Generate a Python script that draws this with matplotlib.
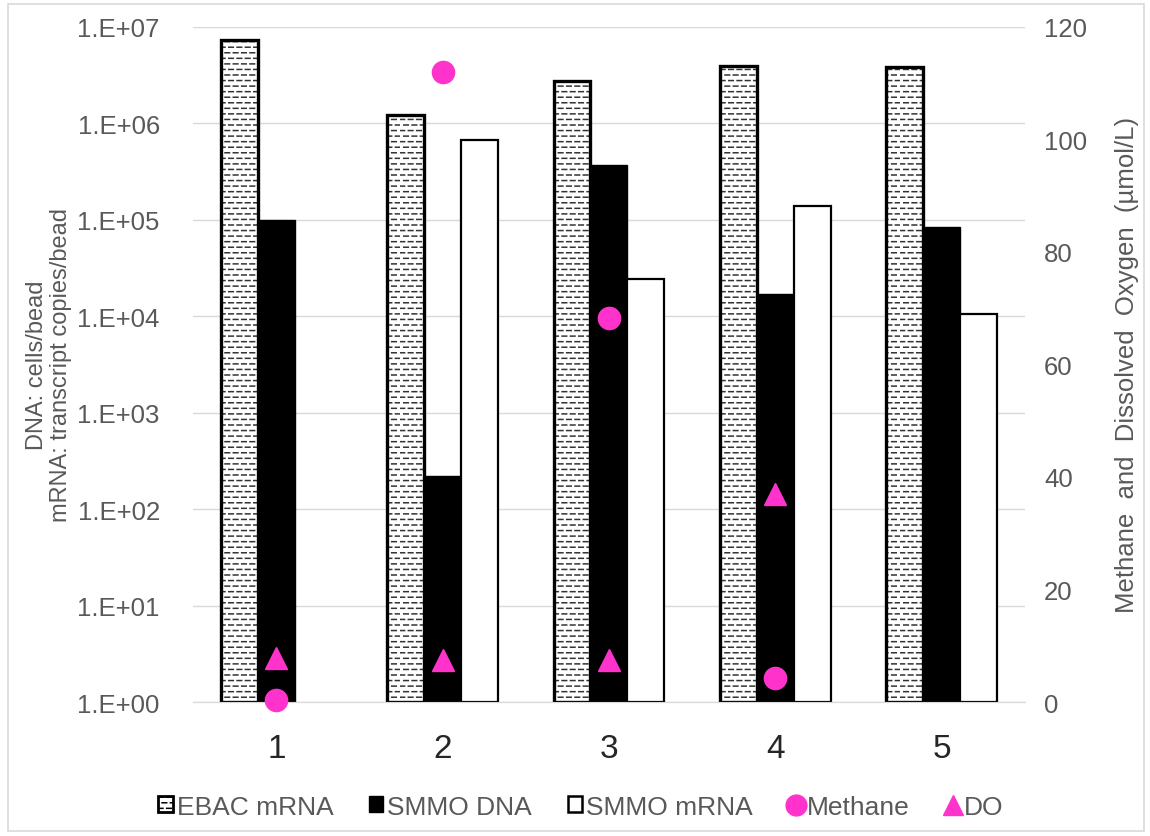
import matplotlib
matplotlib.use("Agg")
import matplotlib.pyplot as plt
import matplotlib.hatch as mhatch
from matplotlib.path import Path
import numpy as np
from matplotlib.patches import Patch, Rectangle
from matplotlib.lines import Line2D

plt.rcParams['font.family'] = ['Liberation Sans', 'DejaVu Sans']
plt.rcParams['hatch.linewidth'] = 1.1

# ---- data ----
samples = ["1", "2", "3", "4", "5"]
ebac_mrna = [7.3e6, 1.2e6, 2.7e6, 3.9e6, 3.8e6]
smmo_dna = [9.8e4, 2.2e2, 3.7e5, 1.7e4, 8.3e4]
smmo_mrna = [np.nan, 6.7e5, 2.4e4, 1.38e5, 1.05e4]
methane = [0.3, 112.0, 68.3, 4.3, np.nan]
dissolved_o2 = [7.8, 7.5, 7.5, 36.9, np.nan]

PINK = "#FF33CC"
GREY = "#595959"
GRID = "#D9D9D9"


class DashedHorizontal(mhatch.HatchPatternBase):
    """Excel-like 'dashed horizontal' fill, used with the '=' hatch char."""
    def __init__(self, hatch, density):
        self.rows = hatch.count('=') * density * 3
        self.per_row = 12
        self.num_vertices = self.rows * self.per_row * 2

    def set_vertices_and_codes(self, vertices, codes):
        p = 1.0 / self.per_row
        k = 0
        for r in range(self.rows):
            y = (r + 0.5) / self.rows
            shift = 0.0 if r % 2 == 0 else 0.45 * p
            for j in range(self.per_row):
                x0 = j * p + shift
                vertices[k] = (x0, y)
                vertices[k + 1] = (x0 + 0.55 * p, y)
                codes[k] = Path.MOVETO
                codes[k + 1] = Path.LINETO
                k += 2


mhatch._hatch_types.append(DashedHorizontal)

fig = plt.figure(figsize=(11.5, 8.37), dpi=100, facecolor="white")
ax = fig.add_axes([0.168, 0.160, 0.723, 0.807])
ax2 = ax.twinx()

x = np.arange(len(samples))
w = 0.222

# EBAC mRNA: dashed fill, then thick black outline on top
ax.bar(x - w, ebac_mrna, w, bottom=1, facecolor="white", edgecolor="#333333",
       hatch="=", linewidth=0, zorder=2)
ax.bar(x - w, ebac_mrna, w, bottom=1, facecolor="none", edgecolor="black",
       linewidth=2.4, zorder=3)
ax.bar(x, smmo_dna, w, bottom=1, color="black", edgecolor="black",
       linewidth=1.0, zorder=3)
ax.bar(x + w, smmo_mrna, w, bottom=1, facecolor="white", edgecolor="black",
       linewidth=1.6, zorder=3)

ax.set_yscale("log")
ax.set_ylim(1, 1e7)
ax.set_xlim(-0.5, len(samples) - 0.5)
ax.set_yticks([10.0 ** k for k in range(8)])
ax.set_yticklabels([f"1.E+{k:02d}" for k in range(8)])
ax.yaxis.set_minor_locator(matplotlib.ticker.NullLocator())
ax.grid(axis="y", color=GRID, lw=1.0, zorder=0)
ax.set_axisbelow(True)
ax.set_xticks(x)
ax.set_xticklabels(samples, fontsize=24, color="#262626")
ax.tick_params(axis="x", length=0, pad=22)
ax.tick_params(axis="y", length=0, pad=24, labelsize=18.5, labelcolor=GREY)
ax.set_ylabel("DNA: cells/bead\nmRNA: transcript copies/bead",
              fontsize=17, color=GREY, labelpad=4, linespacing=1.1)

ax2.plot(x, methane, "o", color=PINK, ms=16, ls="none", zorder=5, clip_on=False)
ax2.plot(x, dissolved_o2, "^", color=PINK, ms=16, ls="none", zorder=5, clip_on=False)
ax2.set_ylim(0, 120)
ax2.set_yticks(range(0, 121, 20))
ax2.tick_params(axis="y", length=0, pad=14, labelsize=18.5, labelcolor=GREY)
ax2.set_ylabel("Methane  and  Dissolved  Oxygen  (\u00b5mol/L)",
               fontsize=18.5, color=GREY, labelpad=20)

for a in (ax, ax2):
    for sp in ("top", "right", "left"):
        a.spines[sp].set_visible(False)
    a.spines["bottom"].set_color(GRID)
ax.set_zorder(ax2.get_zorder() - 1)
ax2.patch.set_visible(False)
ax.patch.set_visible(False)

handles = [
    Patch(facecolor="white", edgecolor="black", hatch="=", linewidth=2.0),
    Patch(facecolor="black", edgecolor="black"),
    Patch(facecolor="white", edgecolor="black", linewidth=1.8),
    Line2D([], [], marker="o", color=PINK, ls="none", ms=15),
    Line2D([], [], marker="^", color=PINK, ls="none", ms=15),
]
labels = ["EBAC mRNA", "SMMO DNA", "SMMO mRNA", "Methane", "DO"]
leg = fig.legend(handles, labels, loc="center", bbox_to_anchor=(0.505, 0.035),
                 ncol=5, frameon=False, fontsize=19, handlelength=0.55,
                 handleheight=0.55, handletextpad=0.15, columnspacing=1.35)
for t in leg.get_texts():
    t.set_color(GREY)

fig.patches.append(Rectangle((0.007, 0.006), 0.988, 0.988, transform=fig.transFigure,
                             fill=False, edgecolor=GRID, lw=1.2))

fig.savefig("out.png", dpi=100, facecolor="white")
